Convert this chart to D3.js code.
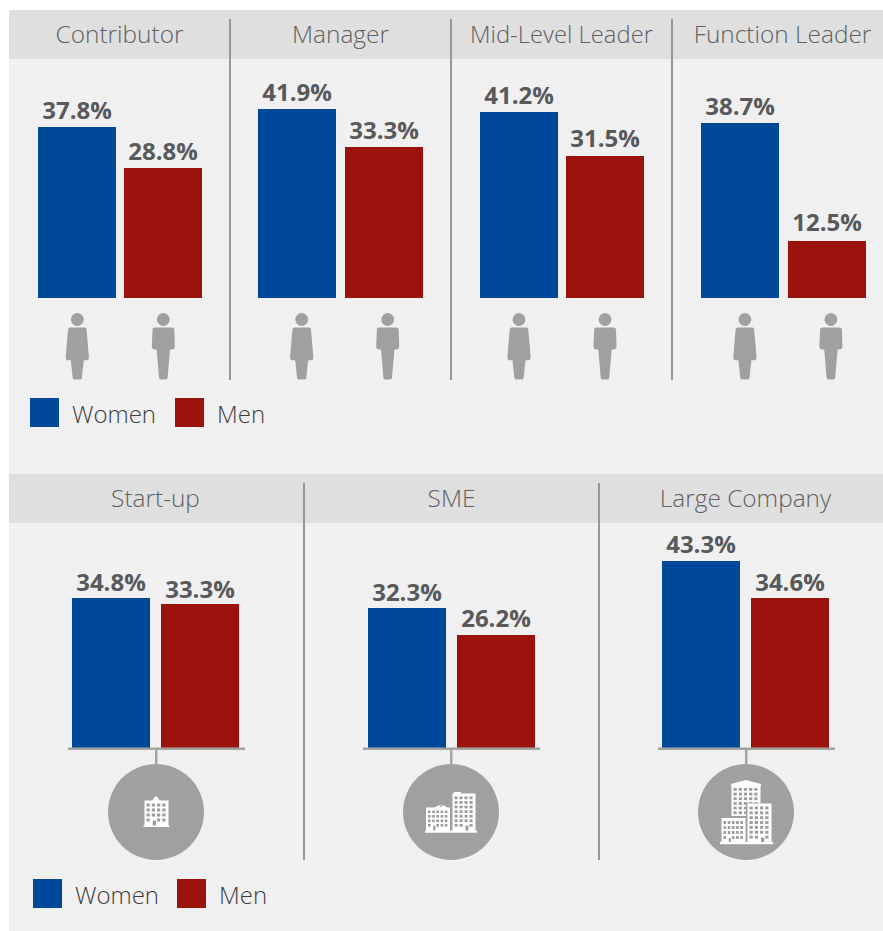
<!DOCTYPE html>
<html><head><meta charset="utf-8">
<script src="https://cdn.jsdelivr.net/npm/d3@7/dist/d3.min.js"></script>
<style>
html,body{margin:0;padding:0;background:#fff}
svg{display:block}
text{font-family:"Open Sans",sans-serif}
</style></head><body>
<svg id="c" width="883" height="931"></svg>
<script>
// --- data ---
const seriesNames = ["Women", "Men"];
const levelCategories = ["Contributor", "Manager", "Mid-Level Leader", "Function Leader"];
const levelWomen = [37.8, 41.9, 41.2, 38.7];
const levelMen = [28.8, 33.3, 31.5, 12.5];
const sizeCategories = ["Start-up", "SME", "Large Company"];
const sizeWomen = [34.8, 32.3, 43.3];
const sizeMen = [33.3, 26.2, 34.6];

// --- style ---
const BLUE = "#004899", RED = "#9c130e", GREY = "#9d9e9b", BG = "#f0f0f0", HEAD = "#dfdfdf";
const color = d3.scaleOrdinal().domain(seriesNames).range([BLUE, RED]);
const svg = d3.select("#c");
const fmt = v => d3.format(".1f")(v) + "%";

svg.append("rect").attr("x", 9).attr("y", 10).attr("width", 874).attr("height", 921).attr("fill", BG);

function panelRow(o) {
  const g = svg.append("g");
  g.append("rect").attr("x", 9).attr("y", o.headTop).attr("width", 874).attr("height", 49).attr("fill", HEAD);
  const x0 = d3.scaleBand().domain(o.cats).range(o.xRange);
  const x1 = d3.scaleBand().domain(seriesNames).range(o.barRange).paddingInner(o.pad);
  const y = d3.scaleLinear().domain([0, 45]).range([o.base, o.base - 45 * o.pxPer]);
  const cx = c => x0(c) + x0.bandwidth() / 2 + o.panelNudge[o.cats.indexOf(c)];

  // dividers
  g.selectAll(".div").data(o.cats.slice(1)).join("rect")
    .attr("x", c => Math.round(x0(c) + o.divOff) - 1).attr("width", 2)
    .attr("y", o.divTop).attr("height", o.divBottom - o.divTop).attr("fill", "#979895");

  // headers
  g.selectAll(".hd").data(o.cats).join("text")
    .attr("x", cx).attr("y", o.headTop + 33).attr("text-anchor", "middle")
    .attr("font-size", (c, i) => o.headSize[i]).attr("font-weight", 300).attr("fill", "#606163").text(c => c);

  // bars + labels
  const rows = o.cats.flatMap((c, i) => [
    {c, s: seriesNames[0], v: o.women[i], n: o.womenNudge[i], b: o.womenBar[i]},
    {c, s: seriesNames[1], v: o.men[i], n: o.menNudge[i], b: o.menBar[i]}
  ]);
  const bx = d => Math.round(cx(d.c) + x1(d.s)) + d.b;
  g.selectAll(".bar").data(rows).join("rect")
    .attr("x", bx).attr("width", Math.round(x1.bandwidth()))
    .attr("y", d => Math.round(y(d.v))).attr("height", d => o.base - Math.round(y(d.v))).attr("fill", d => color(d.s));
  g.selectAll(".val").data(rows).join("text")
    .attr("x", d => bx(d) + x1.bandwidth() / 2).attr("y", d => y(d.v) - 8 + d.n)
    .attr("text-anchor", "middle").attr("font-size", 24).attr("font-weight", 700)
    .attr("fill", "#58595b").text(d => fmt(d.v));

  // legend
  const lg = g.append("g").attr("transform", `translate(${o.legX},${o.legY})`);
  const lx = d3.scaleOrdinal().domain(seriesNames).range([0, o.legStep]);
  lg.selectAll("rect").data(seriesNames).join("rect")
    .attr("x", s => lx(s)).attr("width", 29).attr("height", 29).attr("fill", s => color(s));
  lg.selectAll("text").data(seriesNames).join("text")
    .attr("x", s => lx(s) + 42).attr("y", 25).attr("font-size", 24).attr("font-weight", 300)
    .attr("fill", "#3c3c3b").text(s => s);

  return {g, x0, x1, cx};
}

const topRow = panelRow({
  cats: levelCategories, women: levelWomen, men: levelMen,
  headTop: 10, xRange: [9, 893], barRange: [-82, 83], pad: 0.098,
  base: 298, pxPer: 4.522, divTop: 19, divBottom: 380, divOff: 0,
  legX: 30, legY: 398, legStep: 145,
  panelNudge: [0, 0, 0, 0], headSize: [24.4, 24.4, 23.8, 24.4],
  womenNudge: [0, 0, 0, 0], menNudge: [0, 0, -1, -2],
  womenBar: [0, -1, 0, 0], menBar: [0, 0, 0, 1]
});
const bottomRow = panelRow({
  cats: sizeCategories, women: sizeWomen, men: sizeMen,
  headTop: 474, xRange: [8, 893], barRange: [-83.5, 83.5], pad: 0.1236,
  base: 748, pxPer: 4.322, divTop: 483, divBottom: 860, divOff: 1,
  legX: 33, legY: 879, legStep: 144,
  panelNudge: [0, 1, 0], headSize: [24.4, 24.4, 24.4],
  womenNudge: [1, 1, 0], menNudge: [2, 0, 1],
  womenBar: [0, 0, 0], menBar: [0, 0, 0]
});

// --- person pictograms ---
const womanPath = "M-9,9.5 Q-9,8 -7.5,8 L7.5,8 Q9,8 9.3,10 L11.6,37.5 Q11.8,40.8 9.5,40.8 L6.5,40.8 L4.6,58.5 Q4.3,60 3,60 L-3,60 Q-4.3,60 -4.6,58.5 L-6.5,40.8 L-9.5,40.8 Q-11.8,40.8 -11.6,37.5 L-9.3,10 Z";
const manPath = "M-10.8,10 Q-10.8,8 -8.5,8 L8.5,8 Q10.8,8 11,10 L11.5,26.5 Q11.5,30 8.5,30 L6.7,30 L4.3,58 Q4,60 2.8,60 L-2.8,60 Q-4,60 -4.3,58 L-6.7,30 L-8.5,30 Q-11.5,30 -11.5,26.5 Z";
const iconFill = "#a0a19e";
const iconGroupShift = [0.8, 4.2, 0.5, 5.4];
const iconSide = d3.scaleOrdinal().domain(seriesNames).range([-43, 43]);
levelCategories.forEach((c, ci) => {
  seriesNames.forEach((s, i) => {
    const px = topRow.cx(c) + iconGroupShift[ci] + iconSide(s);
    const ic = topRow.g.append("g").attr("transform", `translate(${px},319.5)`).attr("fill", iconFill);
    ic.append("circle").attr("r", 6.4);
    ic.append("path").attr("d", i === 0 ? womanPath : manPath);
  });
});

// --- building pictograms ---
function building(g, bx, by, w, h, cols, rows, door) {
  g.append("rect").attr("x", bx).attr("y", by).attr("width", w).attr("height", h).attr("fill", "#fff");
  const cellW = (w - 3) / cols, cellH = Math.min(5.2, (h - 6) / rows);
  for (let r = 0; r < rows; r++) for (let k = 0; k < cols; k++) {
    const wx = bx + 2 + k * cellW, wy = by + 3 + r * cellH;
    if (door && r === rows - 1 && k >= door[0] && k <= door[1]) continue;
    g.append("rect").attr("x", wx).attr("y", wy).attr("width", cellW * 0.62).attr("height", cellH * 0.6).attr("fill", GREY);
  }
  if (door) {
    g.append("rect").attr("x", bx + 2 + door[0] * cellW + 1).attr("y", by + h - 6)
      .attr("width", (door[1] - door[0] + 1) * cellW - 2).attr("height", 6).attr("fill", GREY);
  }
}
const bline = 748;
sizeCategories.forEach((c, i) => {
  const cx = bottomRow.x0(c) + bottomRow.x0.bandwidth() / 2 + 0.5;
  const g = bottomRow.g.append("g");
  g.append("rect").attr("x", cx - 88).attr("y", bline - 0.5).attr("width", 177).attr("height", 2.5).attr("fill", "#a3a3a1");
  g.append("rect").attr("x", cx - 1).attr("y", bline).attr("width", 2.5).attr("height", 18).attr("fill", "#a3a3a1");
  g.append("circle").attr("cx", cx).attr("cy", 812).attr("r", 48).attr("fill", iconFill);
  const ic = g.append("g").attr("transform", `translate(${cx},812)`);
  if (i === 0) {
    ic.append("path").attr("d", "M-1,-15.5 L1,-15.5 L4,-11 L-4,-11 Z").attr("fill", "#fff");
    building(ic, -11.5, -11.5, 24, 26, 4, 4, [1, 1]);
    ic.append("rect").attr("x", -12.5).attr("y", 13.5).attr("width", 26).attr("height", 1.5).attr("fill", "#fff");
  } else if (i === 1) {
    ic.append("path").attr("d", "M-11,-5 L-10,-8 L-9,-5 Z M-17,-4 L-3,-4 L-7,-6.5 L-13,-6.5Z").attr("fill", "#fff");
    building(ic, -25, -4.5, 24, 24, 5, 4, [1, 1]);
    ic.append("rect").attr("x", 3).attr("y", -20).attr("width", 7).attr("height", 3).attr("fill", "#fff");
    building(ic, 1.5, -18.5, 23, 38, 4, 7, [2, 2]);
    ic.append("rect").attr("x", -26).attr("y", 18.5).attr("width", 52).attr("height", 2.2).attr("fill", "#fff");
  } else {
    ic.append("path").attr("d", "M-15,-28 L0,-32 L15,-28 L15,-26 L-15,-26 Z").attr("fill", "#fff");
    building(ic, -14.5, -27, 29, 34, 5, 6, null);
    ic.append("rect").attr("x", 0).attr("y", -9).attr("width", 26).attr("height", 42).attr("fill", iconFill);
    ic.append("rect").attr("x", -26).attr("y", 4).attr("width", 26).attr("height", 30).attr("fill", iconFill);
    building(ic, 1.5, -8.5, 24, 40, 4, 7, [2, 2]);
    building(ic, -24.5, 6, 24, 26, 5, 4, [1, 1]);
    ic.append("rect").attr("x", -26).attr("y", 30).attr("width", 53).attr("height", 2.2).attr("fill", "#fff");
  }
});
</script>
</body></html>
